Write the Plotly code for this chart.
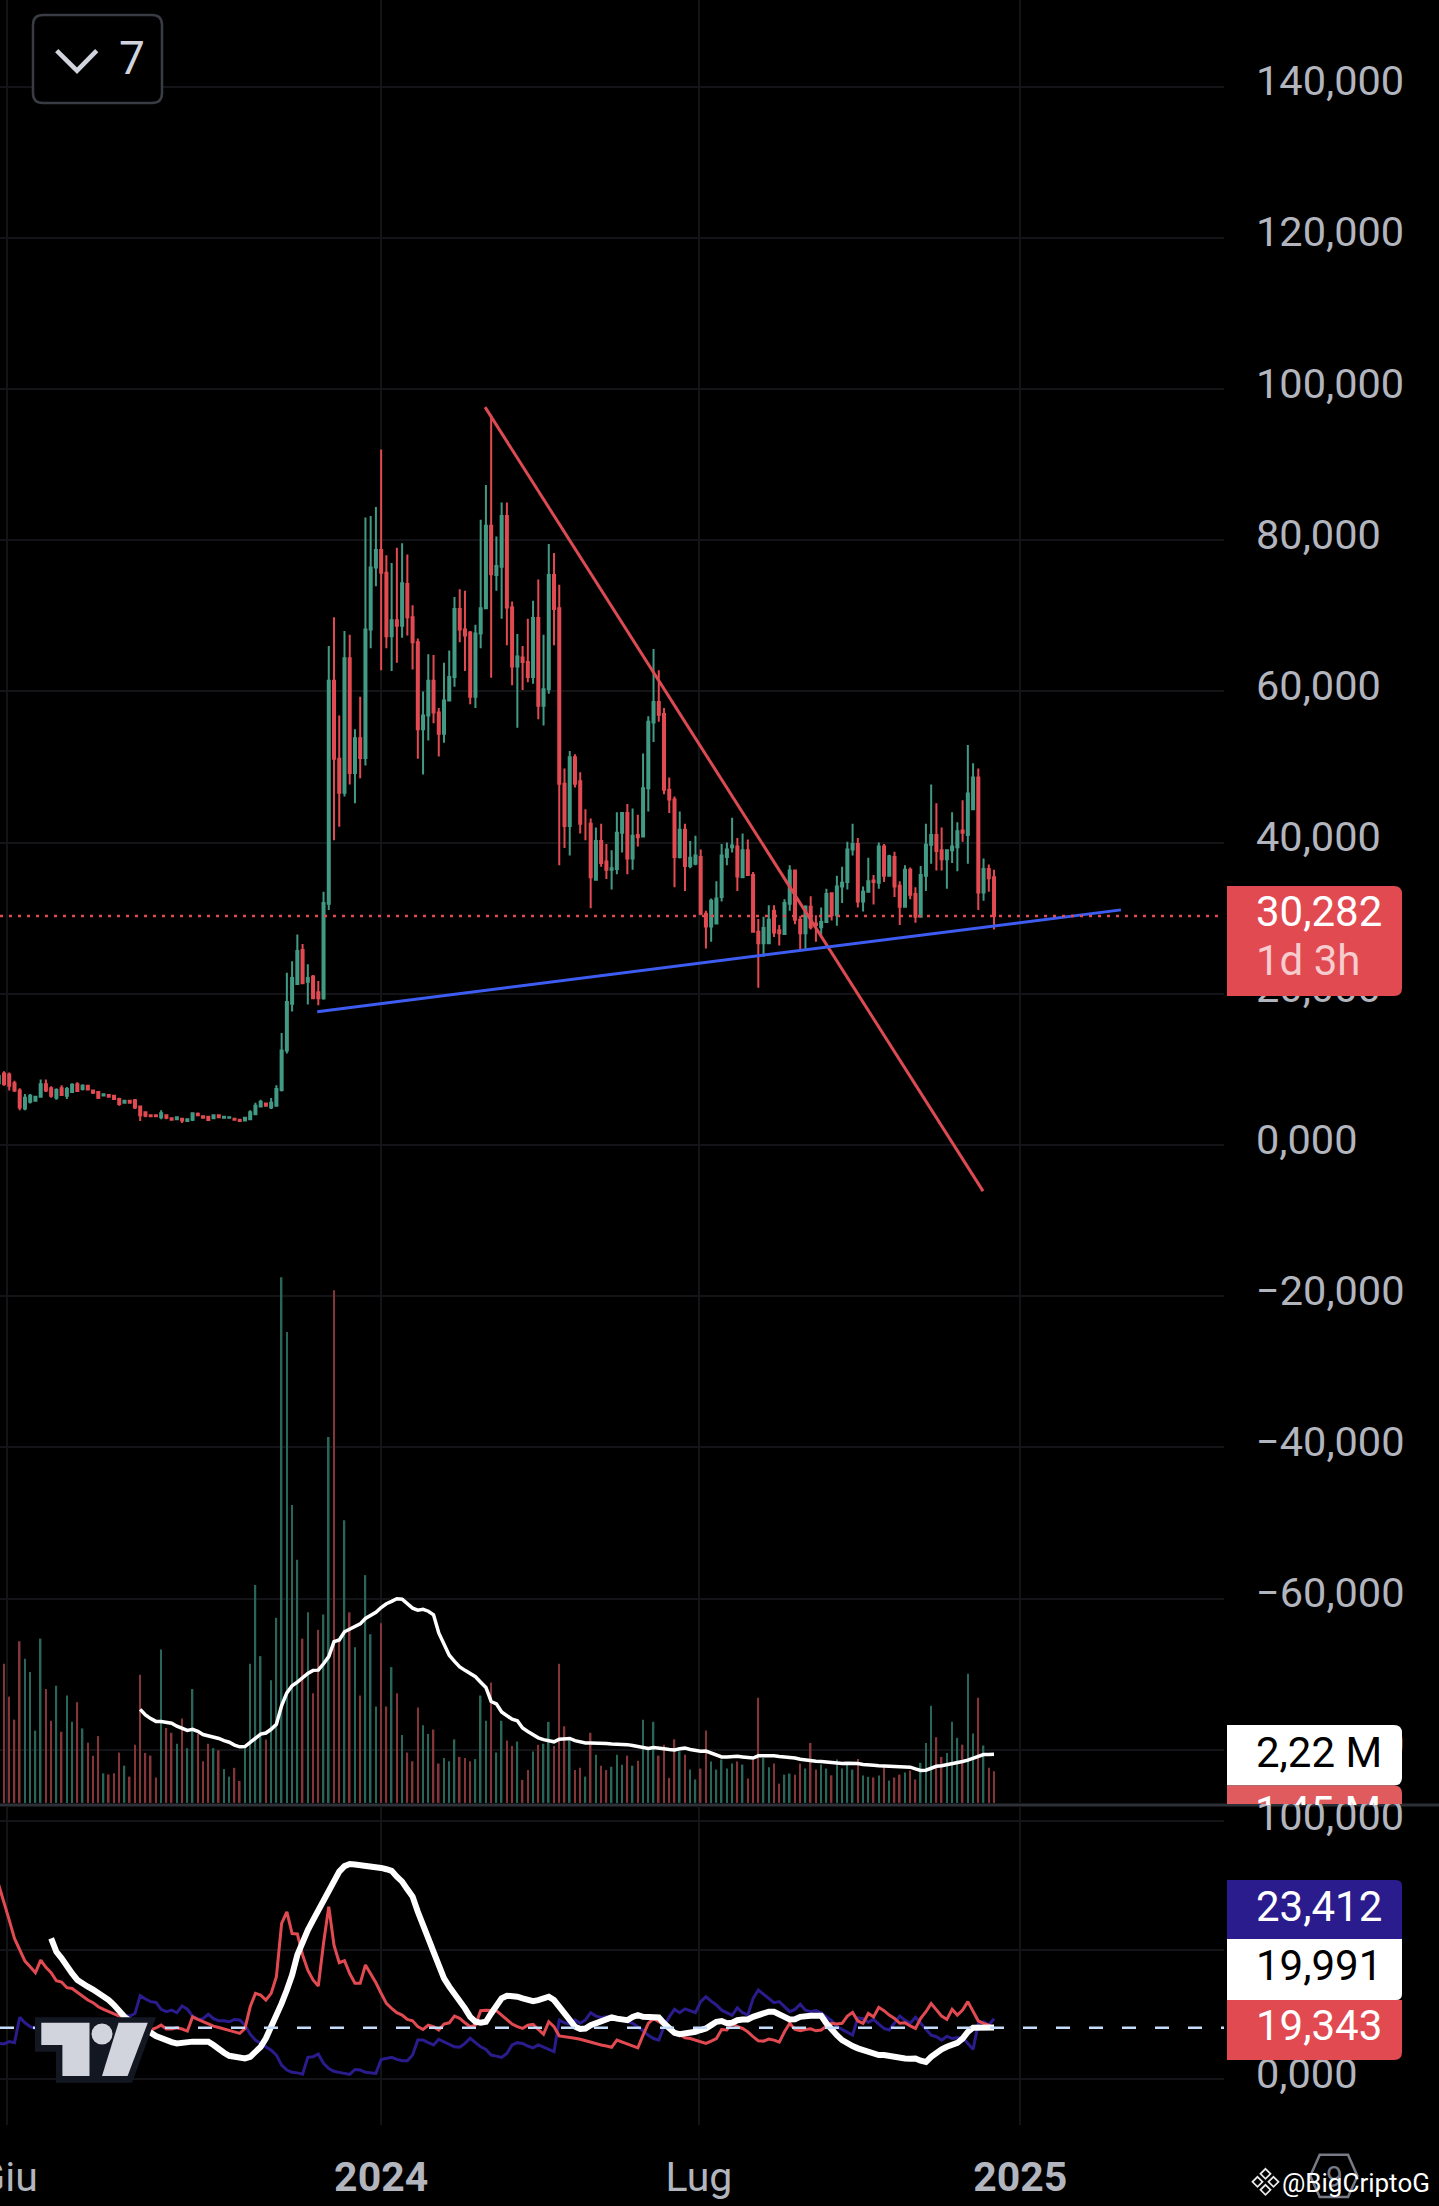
import pandas as pd
import plotly.graph_objects as go

# 3 day candles, last one is the 30,282 close
dates = pd.date_range('2023-05-27', periods=191, freq='3D')

open_prices = [
    8.17, 9.45, 9.32, 8.17, 7.2, 4.84, 5.73, 5.86, 6.37, 8.04,
    7.5, 6.24, 7.5, 6.5, 7.0, 8.04, 7.4, 7.85, 7.2, 7.0,
    6.55, 6.6, 6.5, 6.1, 5.6, 5.86, 5.93, 5.1, 4.32, 3.93,
    3.93, 3.68, 3.94, 3.55, 3.42, 3.48, 3.17, 3.35, 4.13, 3.8,
    3.74, 3.55, 3.94, 3.61, 3.6, 3.48, 3.35, 3.23, 3.42, 4.07,
    5.1, 5.48, 4.96, 5.2, 7.27, 12.5, 18.7, 21.3, 25.8, 21.6,
    22.3, 20.2, 19.4, 31.9, 61.4, 51.1, 46.6, 64.4, 49.2, 53.8,
    51.2, 68.2, 76.4, 78.7, 75.7, 67.3, 69.4, 68.7, 74.2, 69.8,
    66.5, 55, 56.8, 61.4, 57.2, 54.4, 58.8, 61.9, 70.9, 68.2,
    67.8, 59.3, 67.65, 71, 81.9, 75.4, 76.5, 83.2, 71.1, 63.3,
    64.5, 63.9, 61.9, 69.7, 58.1, 60.3, 75.4, 71, 47.8, 42.2,
    51.3, 48.1, 42.5, 42.5, 35.1, 40.2, 37.5, 36.4, 36.5, 41.3,
    43.9, 37.9, 41, 40.8, 47.2, 55.9, 58.6, 57, 47, 45.7,
    38.1, 41.7, 36.9, 37.2, 38.1, 30.6, 28.9, 29.3, 32.8, 38.1,
    39.4, 39.5, 35.4, 39, 35.7, 28.2, 26.7, 26.7, 31, 28.4,
    27.9, 31.9, 36.3, 29.8, 28, 31.5, 29.3, 28.8, 29.5, 33.3,
    30.4, 34.2, 34.8, 39.1, 39.8, 32.2, 33.5, 35, 34.7, 39.5,
    35.6, 38.1, 34.3, 31.5, 36.4, 33.2, 30.2, 35.6, 39.7, 41,
    39, 37.8, 39, 39.4, 41.6, 41, 44.4, 48.6, 33.4, 36.5,
    35.4]
close_prices = [
    9.13, 8.04, 7.85, 7.2, 4.96, 6.24, 6.5, 6.37, 8.04, 7.2,
    6.5, 7.27, 6.6, 7.4, 7.98, 7.14, 7.85, 7.33, 6.9, 6.24,
    6.7, 6.37, 6.1, 5.41, 5.86, 5.6, 4.96, 3.94, 3.87, 3.8,
    3.8, 4.2, 3.61, 3.35, 3.68, 3.23, 3.42, 4.2, 3.94, 3.61,
    3.29, 3.94, 3.68, 3.74, 3.68, 3.35, 3.17, 3.61, 4.32, 5.2,
    5.73, 5.2, 5.6, 7.4, 12.5, 18.9, 22.1, 25.67, 21.4, 22.1,
    19.4, 19.4, 32, 61.4, 51.1, 46.6, 64.4, 49.2, 53.8, 51.2,
    68.2, 76.4, 78.7, 75.7, 67.3, 69.4, 68.7, 74.3, 69.8, 66.5,
    55, 56.8, 61.4, 57.2, 54.4, 58.8, 61.9, 70.9, 68.2, 67.4,
    59.3, 67.65, 71, 81.9, 75.5, 76.6, 83.2, 71.1, 63.3, 64.6,
    63.9, 61.9, 69.7, 58.1, 60.3, 75.4, 70.9, 47.8, 42.2, 51.3,
    47.8, 42.5, 42.5, 35.4, 40.2, 37.3, 36.4, 36.6, 41.3, 43.9,
    37.9, 40.9, 40.7, 47.2, 56, 58.6, 56.9, 47, 45.7, 38.1,
    41.7, 36.9, 38, 38.3, 30.6, 28.9, 32.3, 32.6, 38.3, 39.1,
    39.6, 35.5, 39, 35.7, 28.2, 26.7, 28.7, 29.8, 28.1, 28,
    32, 36.3, 29.8, 28, 31.5, 28.8, 29.1, 29.5, 33.2, 30.4,
    34.2, 34.7, 39.1, 39.8, 32.2, 33.5, 34.9, 34.8, 39.5, 35.6,
    38.2, 34.2, 31.5, 36.4, 33.1, 30.2, 35.7, 39.7, 41, 38.9,
    37.8, 39, 39.5, 41.5, 41.3, 46.5, 48.6, 33.4, 36.5, 35.3,
    30.282]
high_prices = [
    10.6, 9.77, 9.6, 8.5, 7.5, 6.76, 6.76, 6.5, 8.68, 8.68,
    7.78, 7.5, 7.9, 7.66, 8.17, 8.3, 8.04, 7.98, 7.33, 7.14,
    6.76, 6.7, 6.55, 6.24, 6.0, 6.0, 6.1, 5.2, 4.45, 4.0,
    4.0, 4.58, 4.07, 3.6, 3.7, 3.55, 3.5, 4.32, 4.3, 3.9,
    3.8, 4.0, 4.0, 3.8, 3.75, 3.55, 3.4, 3.7, 4.58, 5.6,
    6.0, 5.6, 6.2, 7.9, 14.8, 22.8, 24.3, 27.85, 26.6, 23.9,
    22.5, 21.7, 33.5, 66, 69.8, 56.8, 68, 67.5, 55, 59.3,
    83, 83.2, 84.4, 92, 78, 77, 79, 79.6, 78.1, 71.4,
    67, 60, 64.9, 64.8, 57.8, 63.8, 65.4, 72.5, 73.5, 73.3,
    68, 68.8, 82.7, 87.3, 96.6, 80.5, 85, 85, 71.9, 67.6,
    66, 69.6, 72, 74.8, 67.5, 79.5, 78.3, 74.1, 49.8, 52.1,
    51.7, 49.3, 44.4, 43.2, 42, 42.5, 39.8, 39, 44, 44,
    45.1, 44.5, 43.7, 51.8, 56.7, 65.6, 62.8, 57.8, 48.6, 46.1,
    44.1, 42.5, 40.2, 40.9, 39.1, 31, 32.6, 34.9, 39.8, 40,
    43.3, 40.6, 41.2, 40.4, 36.1, 29.9, 30.2, 31.7, 31.7, 29.1,
    32.5, 37, 36.4, 30.3, 31.7, 32.9, 30.4, 31.4, 33.9, 33.4,
    35.6, 36.8, 40.1, 42.5, 40.6, 34.2, 38, 35.7, 40, 39.8,
    38.4, 38.8, 34.9, 37, 36.7, 34.1, 36.9, 42.5, 47.7, 45.2,
    42, 39.1, 44, 42.7, 45.6, 52.9, 50.5, 49.8, 37.9, 37.1,
    36.4]
low_prices = [
    8.04, 7.85, 7.2, 7.0, 4.58, 4.58, 5.48, 5.73, 6.24, 7.0,
    6.24, 6.0, 6.5, 6.1, 6.9, 7.0, 7.2, 7.2, 6.75, 6.1,
    6.43, 6.3, 6.0, 5.2, 5.48, 5.5, 4.77, 3.17, 3.68, 3.75,
    3.75, 3.42, 3.42, 3.3, 3.4, 2.91, 3.05, 3.17, 3.85, 3.55,
    3.2, 3.5, 3.6, 3.55, 3.6, 3.3, 3.1, 3.2, 3.3, 3.94,
    5.0, 5.1, 4.77, 5.1, 7.08, 12.1, 17.65, 21.2, 21.4, 18.6,
    19.3, 18.5, 19.2, 31.1, 40.3, 42.1, 46.1, 47.7, 45.2, 48.5,
    50.2, 65.7, 73.9, 62.8, 65.7, 62.7, 63.8, 67.1, 67.4, 62.9,
    51.1, 49, 53.5, 55.8, 51.4, 53.2, 58.7, 60.6, 66.5, 62.7,
    58.3, 57.8, 65.7, 70.9, 61.8, 73.3, 69.6, 66.1, 60.8, 55.2,
    60.2, 61.2, 61, 56.3, 55.5, 59.7, 66.1, 37, 39.3, 38.3,
    47.3, 41.2, 40.3, 31.3, 35.1, 36.8, 35.2, 33.8, 35.8, 38.7,
    35.8, 36.4, 39.5, 40.7, 44.1, 53.3, 56, 46.4, 43.9, 34.1,
    37.9, 33.6, 36.6, 37, 30.4, 26, 26.9, 29.2, 32.2, 37,
    38.7, 33.6, 35.3, 35.6, 28.1, 20.8, 24.9, 26.7, 27.5, 26.4,
    27.8, 31, 29.2, 25.9, 25.8, 28.5, 26.9, 27.5, 29.4, 29.7,
    29, 32, 33.8, 38.3, 31.4, 30.9, 33.4, 31.8, 33.9, 34.8,
    35.5, 32.8, 29.1, 31.4, 32.5, 29.4, 30.1, 33.6, 37.2, 36.3,
    36.3, 33.9, 37.3, 36.2, 40.1, 37.2, 44.3, 31.1, 32.3, 33.5,
    28.5]

# volume in millions
volumes = [
    6.0, 6.35, 4.85, 3.8, 7.38, 6.58, 5.98, 3.3, 7.5, 5.2,
    3.75, 5.35, 3.25, 4.9, 3.7, 4.6, 3.4, 2.75, 2.15, 3.05,
    1.35, 1.3, 1.35, 2.3, 1.7, 1.2, 2.65, 5.85, 2.28, 2.16,
    1.16, 7.0, 3.42, 3.2, 2.7, 3.85, 2.5, 5.2, 3.15, 1.9,
    2.7, 2.5, 2.4, 1.55, 1.2, 1.6, 1.0, 2.5, 6.35, 9.95,
    6.7, 2.9, 5.6, 8.45, 24, 21.5, 13.6, 11.1, 7.5, 8.7,
    5.0, 7.9, 8.6, 16.7, 23.4, 7.4, 12.9, 8.7, 7.1, 4.9,
    10.4, 7.7, 4.4, 8.2, 4.4, 6.2, 5.0, 3.1, 2.3, 1.9,
    4.35, 3.55, 3.15, 3.35, 1.8, 2.05, 1.9, 2.9, 2.1, 2.05,
    1.9, 2.0, 4.9, 3.75, 5.5, 2.3, 3.75, 2.85, 2.6, 2.8,
    1.05, 1.5, 2.35, 2.65, 2.7, 3.7, 2.6, 6.35, 3.5, 2.85,
    1.5, 1.6, 1.2, 3.2, 2.2, 1.7, 1.5, 1.65, 2.2, 1.74,
    2.16, 1.7, 1.93, 3.8, 2.45, 3.7, 2.16, 2.65, 1.14, 2.9,
    2.36, 2.2, 1.52, 1.07, 1.57, 3.3, 1.89, 1.52, 1.98, 1.57,
    1.8, 1.89, 1.75, 1.11, 1.98, 4.8, 2.05, 1.63, 1.8, 0.88,
    1.29, 1.34, 1.29, 1.8, 1.57, 2.74, 1.52, 1.75, 1.57, 1.26,
    1.98, 1.57, 1.75, 1.52, 2.0, 1.25, 1.19, 1.16, 1.25, 1.64,
    1.02, 1.16, 1.29, 1.39, 1.48, 1.07, 1.83, 2.74, 4.44, 3.0,
    2.1, 2.28, 3.71, 2.97, 2.66, 5.9, 3.17, 4.8, 2.62, 1.61,
    1.45]
volume_ma = [None] * 27 + [
    4.27, 4.02, 3.85, 3.72, 3.72, 3.69, 3.64, 3.5, 3.39, 3.31,
    3.36, 3.27, 3.12, 3.07, 2.99, 2.94, 2.84, 2.77, 2.64, 2.56,
    2.57, 2.76, 2.94, 3.14, 3.19, 3.36, 3.59, 4.44, 5.02, 5.35,
    5.51, 5.71, 5.91, 6.05, 6.06, 6.35, 6.68, 7.36, 7.44, 7.81,
    7.92, 8.07, 8.17, 8.42, 8.55, 8.7, 8.92, 9.09, 9.2, 9.32,
    9.3, 9.09, 8.89, 8.8, 8.84, 8.75, 8.59, 7.76, 7.21, 6.74,
    6.46, 6.21, 6.05, 5.91, 5.76, 5.51, 5.27, 4.63, 4.52, 4.15,
    3.97, 3.82, 3.75, 3.42, 3.26, 3.12, 2.97, 2.89, 2.82, 2.79,
    2.91, 2.94, 2.94, 2.84, 2.77, 2.74, 2.74, 2.74, 2.72, 2.71,
    2.69, 2.69, 2.66, 2.66, 2.62, 2.56, 2.54, 2.48, 2.53, 2.48,
    2.47, 2.44, 2.42, 2.47, 2.5, 2.44, 2.4, 2.36, 2.37, 2.28,
    2.15, 2.1, 2.1, 2.12, 2.13, 2.1, 2.07, 2.05, 2.15, 2.16,
    2.16, 2.15, 2.12, 2.1, 2.09, 2.05, 1.99, 1.95, 1.93, 1.9,
    1.89, 1.86, 1.83, 1.8, 1.8, 1.81, 1.81, 1.8, 1.75, 1.72,
    1.72, 1.7, 1.69, 1.67, 1.66, 1.64, 1.64, 1.63, 1.55, 1.48,
    1.49, 1.6, 1.67, 1.7, 1.74, 1.8, 1.83, 1.89, 1.95, 2.05,
    2.13, 2.21, 2.21, 2.22]

# lower pane: DI+ (blue), DI- (red), ADX (white)
di_minus = [
    75.2, 68.7, 61.6, 54.5, 50, 45.7, 43.5, 41.2, 46.1, 43.3,
    41.2, 38.1, 37.6, 35.4, 35.1, 33.6, 31.9, 30.6, 29.6, 28,
    27, 26.1, 25.2, 24.1, 23.5, 22.9, 22.2, 21.6, 20.3, 19,
    19.8, 20.9, 19.4, 19.4, 19.9, 19.4, 18.6, 24.1, 23.1, 22.2,
    21.3, 20.5, 20, 19.5, 19, 18.3, 17.7, 19.6, 28, 33.2,
    32.5, 30.6, 33.2, 39.7, 60.3, 64.8, 56.4, 56.2, 48.1, 42.2,
    38.4, 36, 52.6, 66.8, 51.9, 45.1, 45.9, 40.9, 37.1, 37.1,
    44.2, 40.9, 37.3, 33.2, 29.3, 27.4, 25.7, 24.8, 23.1, 22.6,
    20.3, 19.2, 20.9, 20.3, 19, 21.3, 21.8, 24.4, 23.5, 21.8,
    20.3, 20.9, 26.5, 26.7, 26.7, 26.5, 24.8, 22.9, 21.3, 20.3,
    19.6, 20.9, 21.2, 19.2, 17.4, 22.2, 20.3, 16.7, 16.4, 16.3,
    15.8, 15.4, 14.8, 14.1, 13.5, 13.2, 12.8, 12.3, 15.1, 14.4,
    13.5, 12.8, 12.1, 17, 21.6, 23.5, 22.2, 20.9, 19.6, 18.3,
    17, 16, 15.7, 15.1, 14.2, 13.8, 14.7, 15.7, 19.2, 19,
    21.6, 20.3, 19.6, 18.3, 16.4, 14.8, 14.7, 15.5, 15.1, 14.3,
    18.3, 21.6, 19.2, 18.7, 19.2, 19.5, 18.7, 19, 20.5, 21.6,
    21.3, 21.6, 24.4, 25.8, 22.5, 21.6, 25.4, 24.1, 27.8, 26.5,
    24.8, 23.5, 21.6, 21.8, 20.6, 19.6, 23.5, 26.1, 29.3, 26.7,
    24.4, 23.1, 27, 24.8, 26.7, 30, 26.1, 22.5, 21.6, 20.9,
    19.343]
di_plus = [
    13.8, 13.6, 14.5, 14.1, 23.9, 21.8, 20.3, 19.6, 20, 20.5,
    21, 21, 21, 21.5, 22, 22, 22, 23, 23, 23,
    23, 23, 23, 23, 24.8, 24.4, 25.4, 32.3, 31, 30,
    29.7, 27, 26.1, 26.7, 25.7, 28.3, 27.1, 24.4, 23.1, 23.4,
    25.1, 23.4, 22.6, 22.6, 22.2, 23.1, 22.9, 20.9, 17.4, 15.1,
    13.8, 12.5, 11.2, 9.3, 5.4, 3.5, 2.6, 2.4, 1.9, 8.4,
    8.6, 9.7, 6.1, 4.1, 3, 2.6, 2.2, 1.8, 3.7, 3.5,
    2.6, 2.4, 2.2, 7.6, 7.9, 8.4, 7.6, 7.1, 7.1, 9.3,
    15.1, 15.1, 14.1, 13.2, 15.4, 14.5, 13.6, 12.5, 12.3, 13.8,
    15.8, 14.1, 12.5, 11.5, 9.3, 8.9, 8.4, 9.9, 13.2, 14.1,
    13.8, 12.8, 12.1, 13.2, 12.5, 11.5, 10.6, 22.9, 21.8, 21.3,
    22.9, 21.6, 22.9, 25.7, 24.4, 23.9, 24.1, 24.1, 23.9, 23.1,
    22.2, 21.6, 20.3, 18.6, 17, 15.7, 15.1, 20.3, 24.1, 27,
    25.7, 27.2, 26.5, 25.7, 30, 31.9, 30.2, 28.7, 26.7, 25.7,
    24.7, 27.6, 25.7, 24.8, 31.2, 34.5, 32.8, 31.2, 29.6, 30,
    28, 26.1, 27, 29, 26.7, 26.1, 26.5, 25.7, 24.1, 22.6,
    20.3, 19.2, 17.9, 17, 23.7, 23.4, 22, 23.1, 21.3, 19.6,
    19, 21.6, 24.4, 22.8, 21.6, 23.9, 21.6, 19, 17, 16.4,
    15.1, 16.6, 15.7, 16, 16.1, 13.8, 11.5, 21.6, 22.2, 20.9,
    23.412]
adx = [None] * 10 + [
    54.5, 49.3, 46.8, 43.5, 40.9, 38.4, 36.8, 35.8, 34.7, 33.4,
    32.3, 30.6, 28.7, 26.1, 24.1, 22.6, 20.9, 19.6, 18.6, 18,
    16.7, 15.8, 14.8, 14.3, 13.8, 14.2, 14.5, 14.5, 14.5, 14.5,
    14.5, 13.2, 11.5, 10.2, 9, 8.6, 8.3, 8, 8.6, 10.2,
    12.5, 15.8, 20, 25.4, 29.3, 34.5, 40.3, 48.1, 53.2, 57.7,
    61.6, 65.5, 69.4, 73.2, 76.5, 80.4, 82.5, 83.3, 83.1, 82.9,
    82.7, 82.5, 82.3, 81.8, 81.3, 80.7, 78.4, 76.5, 73.5, 70.7,
    64.8, 60.3, 54.5, 49.3, 43.5, 39, 35.8, 33.2, 30.6, 27.4,
    24.1, 22.2, 21.8, 22.2, 25.4, 28.7, 31.3, 32.3, 32.3, 31.9,
    31.3, 30.6, 30.2, 30.6, 31.3, 31.9, 30.6, 28, 25.4, 22.2,
    20.3, 19.4, 19.6, 20.9, 21.8, 22.2, 23.1, 23.9, 23.4, 23.1,
    22.8, 24.1, 24.8, 24.1, 23.9, 24.1, 23.9, 21.6, 19.4, 17.9,
    17.4, 17.7, 17.7, 18.3, 19, 19.6, 20.9, 22.2, 22.5, 21.6,
    21.8, 22.8, 23.1, 23.1, 24.1, 24.8, 25.8, 26.1, 26.1, 25.4,
    24.1, 23.1, 23.2, 24.1, 24.5, 24.5, 24.5, 24.5, 21.6, 19,
    17, 15.1, 13.8, 12.8, 11.9, 11.2, 10.6, 9.7, 9.3, 9.3,
    8.9, 8.4, 8.1, 8, 7.9, 8, 7.1, 6.6, 8.6, 10.2,
    11.5, 12.5, 13.5, 14, 15.7, 18.3, 19.9, 20, 20, 20,
    19.991]

# drawn trend lines
red_trend_x = ['2024-02-29 12:00', '2024-12-10 17:00']
red_trend_y = [97.6, -6.1]
blue_trend_x = ['2023-11-25 09:36', '2025-02-27 17:00']
blue_trend_y = [17.63, 31.1]

price_ticks = [140, 120, 100, 80, 60, 40, 20, 0, -20, -40, -60, -80]
price_labels = ['140,000', '120,000', '100,000', '80,000', '60,000', '40,000', '20,000',
                '0,000', '\u221220,000', '\u221240,000', '\u221260,000', '\u221280,000']
osc_ticks = [100, 50, 0]
osc_labels = ['100,000', '50,000', '0,000']
time_ticks = ['2023-06-01', '2024-01-01', '2024-07-01', '2025-01-01']
time_labels = ['Giu', '<b>2024</b>', 'Lug', '<b>2025</b>']

W, H = 1439, 2206
GREEN, RED = '#429A85', '#E24A52'
GRID = '#121418'
TICK = '#B2B5BE'
FONT = 'Roboto'


def px(x):
    return x / W


def py(y):
    return 1 - y / H


def poly(points):
    return 'M ' + ' L '.join(f'{px(x)},{py(y)}' for x, y in points) + ' Z'


def tag_path(x0, y0, x1, y1, rt=0, rb=0):
    return (f'M {px(x0)},{py(y0)} L {px(x1 - rt)},{py(y0)} Q {px(x1)},{py(y0)} {px(x1)},{py(y0 + rt)} '
            f'L {px(x1)},{py(y1 - rb)} Q {px(x1)},{py(y1)} {px(x1 - rb)},{py(y1)} L {px(x0)},{py(y1)} Z')


def paper_shape(path, fill='rgba(0,0,0,0)', line='rgba(0,0,0,0)', width=0):
    return dict(type='path', xref='paper', yref='paper', path=path, fillcolor=fill,
                line=dict(color=line, width=width), layer='above')


def label(text, x, y, color, size=42, anchor='left', **kw):
    return dict(text=text, x=px(x), y=py(y), xref='paper', yref='paper', showarrow=False,
                xanchor=anchor, yanchor='middle', font=dict(family=FONT, size=size, color=color), **kw)


fig = go.Figure()

fig.add_trace(go.Bar(
    x=dates, y=volumes, yaxis='y3',
    marker=dict(color=['#2A655A' if c >= o else '#833538' for o, c in zip(open_prices, close_prices)],
                line_width=0)))
fig.add_trace(go.Scatter(x=dates, y=volume_ma, yaxis='y3', mode='lines', line=dict(color='white', width=3.5)))

fig.add_trace(go.Candlestick(
    x=dates, open=open_prices, high=high_prices, low=low_prices, close=close_prices,
    increasing=dict(line=dict(color=GREEN, width=2), fillcolor=GREEN),
    decreasing=dict(line=dict(color=RED, width=2), fillcolor=RED)))
fig.add_trace(go.Scatter(x=red_trend_x, y=red_trend_y, mode='lines', line=dict(color='#DC4A52', width=3)))
fig.add_trace(go.Scatter(x=blue_trend_x, y=blue_trend_y, mode='lines', line=dict(color='#3D5CF2', width=3)))

fig.add_trace(go.Scatter(x=dates, y=di_plus, yaxis='y2', mode='lines', line=dict(color='#2A1C8C', width=3)))
fig.add_trace(go.Scatter(x=dates, y=di_minus, yaxis='y2', mode='lines', line=dict(color=RED, width=3)))
fig.add_trace(go.Scatter(x=dates, y=adx, yaxis='y2', mode='lines', line=dict(color='white', width=6)))

shapes = [
    # last price and the dashed level in the lower pane
    dict(type='line', xref='x domain', yref='y', x0=0, x1=1, y0=30.282, y1=30.282, layer='above',
         line=dict(color=RED, width=2.5, dash='3px,6px')),
    dict(type='line', xref='x domain', yref='y2', x0=0, x1=1, y0=19.9, y1=19.9, layer='above',
         line=dict(color='#C5DCFB', width=2.5, dash='14px,19px')),
    # pane divider
    dict(type='rect', xref='paper', yref='paper', x0=0, x1=1, y0=py(1806.5), y1=py(1803.5),
         fillcolor='#2E3038', line_width=0, layer='below'),
    # value tags
    paper_shape(tag_path(1227, 886, 1402, 996, 8, 8), fill=RED),
    paper_shape(tag_path(1227, 1725, 1402, 1785.5, 8, 8), fill='white'),
    paper_shape(tag_path(1227, 1785.5, 1402, 1804, 8, 0), fill='#E05B5E'),
    paper_shape(tag_path(1227, 1880, 1402, 1939, 6, 0), fill='#2A1C8C'),
    paper_shape(tag_path(1227, 1939, 1402, 2000, 0, 6), fill='white'),
    paper_shape(tag_path(1227, 2000, 1402, 2060, 0, 8), fill=RED),
    # collapse button
    paper_shape(f'M {px(43)},{py(15)} L {px(152)},{py(15)} Q {px(162)},{py(15)} {px(162)},{py(25)} '
                f'L {px(162)},{py(93)} Q {px(162)},{py(103)} {px(152)},{py(103)} L {px(43)},{py(103)} '
                f'Q {px(33)},{py(103)} {px(33)},{py(93)} L {px(33)},{py(25)} Q {px(33)},{py(15)} {px(43)},{py(15)} Z',
                fill='#000000', line='#3A3C44', width=2.5),
    paper_shape(f'M {px(56.7)},{py(50.7)} L {px(77)},{py(70.7)} L {px(96.7)},{py(50.7)}', line='#D1D4DC', width=4.5),
    # tradingview mark
    paper_shape(poly([(35, 2017.3), (156, 2017.3), (132, 2082.7), (56, 2082.7), (56, 2051.7), (35, 2051.7)]),
                fill='#131722'),
    paper_shape(poly([(41.3, 2022.7), (89.5, 2022.7), (89.5, 2076), (62.4, 2076), (62.4, 2045), (41.3, 2045)]),
                fill='#D1D4DC'),
    paper_shape(poly([(118.5, 2022.7), (147.8, 2022.7), (127.6, 2076), (102, 2076)]), fill='#D1D4DC'),
    dict(type='circle', xref='paper', yref='paper', x0=px(91.5), x1=px(112.5), y0=py(2044.5), y1=py(2023.5),
         fillcolor='#D1D4DC', line_width=0, layer='above'),
    # hexagon badge behind the signature
    paper_shape(poly([(1319.7, 2154.7), (1348, 2154.7), (1357.4, 2176), (1348, 2197), (1319.7, 2197), (1310.3, 2176)]),
                line='#787B86', width=2.5),
]
# signature diamonds
for dx, dy in [(0, -8), (8, 0), (0, 8), (-8, 0)]:
    cx, cy = 1265.5 + dx, 2181.8 + dy
    shapes.append(paper_shape(poly([(cx, cy - 5), (cx + 5, cy), (cx, cy + 5), (cx - 5, cy)]), line='#E8E8E8', width=1.8))

annotations = [
    label('7', 132, 58.5, '#D1D4DC', size=46, anchor='center'),
    label('30,282', 1254, 912, 'white'),
    label('1d 3h', 1254, 960, 'rgba(255,255,255,0.72)'),
    label('2,22 M', 1254, 1752.7, 'black'),
    label('23,412', 1254, 1906, 'white'),
    label('19,991', 1254, 1965, 'black'),
    label('19,343', 1254, 2025, 'white'),
    label('9', 1334, 2176, '#787B86', size=30, anchor='center'),
    label('@BigCriptoG', 1280, 2183, 'white', size=26),
    # 1,45 M runs into the pane border, only its upper part shows
    dict(text='1,45 M', x=px(1254), y=py(1786), xref='paper', yref='paper', showarrow=False, xanchor='left',
         yanchor='top', valign='top', height=18, borderpad=0, font=dict(family=FONT, size=42, color='white')),
]

fig.update_layout(
    width=W, height=H, autosize=False,
    margin=dict(l=0, r=0, t=0, b=0, autoexpand=False),
    paper_bgcolor='black', plot_bgcolor='black',
    showlegend=False, hovermode=False, bargap=0.7, boxgap=0.45,
    shapes=shapes, annotations=annotations,
    font=dict(family=FONT, color=TICK),
    xaxis=dict(
        type='date', domain=[0, 1224 / W], anchor='y2',
        range=['2023-05-27 17:00', '2025-04-27 17:00'],
        rangeslider=dict(visible=False),
        tickmode='array', tickvals=time_ticks, ticktext=time_labels,
        tickfont=dict(family=FONT, size=41, color=TICK), ticklabelstandoff=24, ticklabeloverflow='allow',
        showgrid=True, gridcolor=GRID, gridwidth=2, zeroline=False, showline=False, ticks=''),
    yaxis=dict(
        domain=[py(1804), 1], range=[-87.17, 151.455], anchor='x', side='right',
        tickmode='array', tickvals=price_ticks, ticktext=price_labels,
        tickfont=dict(family=FONT, size=41.5, color=TICK), ticklabelstandoff=31, ticklabelshift=-6,
        ticklabeloverflow='allow',
        showgrid=True, gridcolor=GRID, gridwidth=2, zeroline=False, showline=False, ticks=''),
    yaxis2=dict(
        domain=[py(2125), py(1806)], range=[-17.8, 105.8], anchor='x', side='right',
        tickmode='array', tickvals=osc_ticks, ticktext=osc_labels,
        tickfont=dict(family=FONT, size=41.5, color=TICK), ticklabelstandoff=31, ticklabelshift=-6,
        ticklabeloverflow='allow',
        showgrid=True, gridcolor=GRID, gridwidth=2, zeroline=False, showline=False, ticks=''),
    yaxis3=dict(
        overlaying='y', range=[-0.05, 82.3], visible=False, showgrid=False, zeroline=False),
)

fig.write_html("out.html", config={'displayModeBar': False},
               post_script="document.body.style.margin='0';document.body.style.background='black';")
